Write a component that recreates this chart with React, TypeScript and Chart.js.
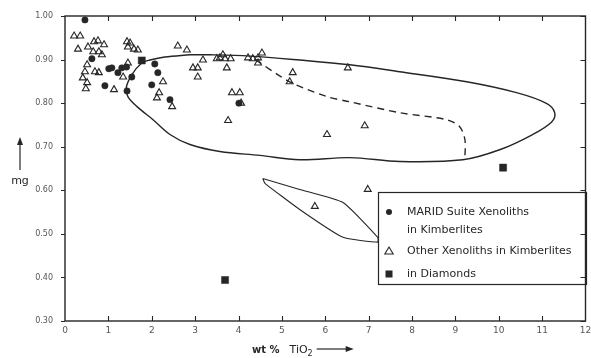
import React, { useEffect, useRef } from "react";
import { Chart, registerables } from "chart.js";

Chart.register(...registerables);

// MARID suite xenoliths in kimberlites (filled circles)
const maridX = [0.46, 0.62, 0.92, 1.01, 1.08, 1.22, 1.31, 1.42, 1.54, 1.43, 2.07, 2.14, 2.0, 2.42, 4.01];
const maridY = [0.991, 0.902, 0.84, 0.879, 0.881, 0.87, 0.881, 0.883, 0.86, 0.828, 0.89, 0.87, 0.842, 0.808, 0.80];

// Other xenoliths in kimberlites (open triangles)
const otherX = [
  0.21, 0.35, 0.30, 0.53, 0.67, 0.76, 0.90, 0.65, 0.78, 0.85, 0.51, 0.46, 0.41, 0.69, 0.78,
  0.51, 0.48, 1.13, 1.34, 1.45, 1.43, 1.50, 1.45, 1.59, 1.68, 2.60, 2.81, 2.95, 3.06, 3.06,
  3.18, 3.50, 3.57, 3.64, 3.69, 3.82, 3.73, 3.85, 4.03, 4.06, 3.76, 2.26, 2.17, 2.12, 2.47,
  4.22, 4.33, 4.45, 4.54, 4.45, 5.25, 5.18, 6.52, 6.04, 6.91, 6.98, 5.76,
];
const otherY = [
  0.954, 0.954, 0.924, 0.929, 0.941, 0.943, 0.934, 0.918, 0.918, 0.911, 0.888, 0.872, 0.858, 0.872, 0.87,
  0.847, 0.833, 0.831, 0.86, 0.892, 0.941, 0.938, 0.929, 0.924, 0.922, 0.931, 0.922, 0.881, 0.881, 0.86,
  0.899, 0.902, 0.904, 0.911, 0.902, 0.902, 0.881, 0.824, 0.824, 0.80, 0.76, 0.849, 0.824, 0.812, 0.792,
  0.904, 0.902, 0.904, 0.915, 0.892, 0.87, 0.849, 0.881, 0.728, 0.748, 0.602, 0.563,
];

// Inclusions in diamonds (filled squares)
const diamondX = [1.77, 3.69, 10.1];
const diamondY = [0.898, 0.394, 0.652];

// Large solid field outline
const fieldX = [
  2.88, 2.3, 1.96, 1.77, 1.54, 1.41, 1.45, 1.66, 2.03, 2.42, 2.88, 3.57, 4.49, 5.41, 6.57,
  7.72, 9.17, 10.02, 10.78, 11.22, 11.29, 11.11, 10.41, 9.26, 7.72, 6.57, 5.41, 4.26, 3.34, 2.88,
];
const fieldY = [
  0.911, 0.906, 0.899, 0.892, 0.865, 0.835, 0.815, 0.792, 0.762, 0.728, 0.705, 0.689, 0.68, 0.67, 0.675,
  0.666, 0.67, 0.693, 0.728, 0.757, 0.778, 0.799, 0.824, 0.849, 0.872, 0.888, 0.899, 0.908, 0.911, 0.911,
];

// Dashed sub-field boundary
const dashX = [4.4, 5.18, 6.04, 6.57, 7.72, 8.8, 9.1, 9.22, 9.22];
const dashY = [0.899, 0.849, 0.815, 0.803, 0.778, 0.762, 0.746, 0.716, 0.675];

// Small elongated field
const smallX = [4.56, 5.41, 6.41, 7.21, 7.21, 6.41, 5.41, 4.61, 4.56];
const smallY = [0.627, 0.602, 0.572, 0.492, 0.481, 0.492, 0.556, 0.616, 0.627];

const xTicks = [0, 1, 2, 3, 4, 5, 6, 7, 8, 9, 10, 11, 12];
const yTicks = [0.3, 0.4, 0.5, 0.6, 0.7, 0.8, 0.9, 1.0];

const legendItems = [
  { marker: "circle", lines: ["MARID Suite Xenoliths", "in Kimberlites"] },
  { marker: "triangle", lines: ["Other Xenoliths in Kimberlites"] },
  { marker: "square", lines: ["in Diamonds"] },
];

const INK = "#262626";
const FONT = "'DejaVu Sans', sans-serif";

const pts = (xs: number[], ys: number[]) => xs.map((x, i) => ({ x, y: ys[i] }));

export default function App() {
  const ref = useRef<HTMLCanvasElement | null>(null);

  useEffect(() => {
    const canvas = ref.current;
    if (!canvas) return;

    const decorPlugin = {
      id: "decor",
      afterDatasetsDraw(chart: any) {
        const { ctx, chartArea: a, scales } = chart;
        const xs = scales.x;
        const ys = scales.y;
        // legend box
        const L = Math.round(xs.getPixelForValue(7.22));
        const T = Math.round(ys.getPixelForValue(0.596));
        const B = Math.round(ys.getPixelForValue(0.386));
        const R = Math.round(a.right);
        ctx.save();
        ctx.fillStyle = "#fff";
        ctx.fillRect(L, T, R - L, B - T);
        ctx.strokeStyle = INK;
        ctx.lineWidth = 1.2;
        ctx.strokeRect(L + 0.5, T + 0.5, R - L, B - T);
        ctx.fillStyle = INK;
        ctx.font = `11px ${FONT}`;
        ctx.textBaseline = "middle";
        ctx.textAlign = "left";
        const mx = L + 11;
        const tx = L + 29;
        let y = T + 20;
        legendItems.forEach((it) => {
          ctx.beginPath();
          if (it.marker === "circle") {
            ctx.arc(mx, y, 3, 0, Math.PI * 2);
            ctx.fill();
          } else if (it.marker === "triangle") {
            ctx.lineWidth = 1.1;
            ctx.moveTo(mx, y - 4);
            ctx.lineTo(mx + 4.2, y + 3);
            ctx.lineTo(mx - 4.2, y + 3);
            ctx.closePath();
            ctx.stroke();
          } else {
            ctx.fillRect(mx - 3.5, y - 3.5, 7, 7);
          }
          it.lines.forEach((ln, k) => {
            ctx.fillText(ln, tx, y + k * 18);
          });
          y += it.lines.length === 2 ? 39 : 23;
        });
        ctx.restore();
      },
      afterDraw(chart: any) {
        const { ctx, chartArea: a, scales } = chart;
        const xs = scales.x;
        const ys = scales.y;
        ctx.save();
        ctx.strokeStyle = INK;
        ctx.lineWidth = 1.4;
        ctx.strokeRect(a.left, a.top, a.right - a.left, a.bottom - a.top);
        ctx.lineWidth = 1.1;
        ctx.beginPath();
        xTicks.slice(1, -1).forEach((v) => {
          const px = Math.round(xs.getPixelForValue(v)) + 0.5;
          ctx.moveTo(px, a.bottom);
          ctx.lineTo(px, a.bottom - 5);
          ctx.moveTo(px, a.top);
          ctx.lineTo(px, a.top + 5);
        });
        yTicks.forEach((v) => {
          const py = Math.round(ys.getPixelForValue(v)) + 0.5;
          ctx.moveTo(a.left - 4, py);
          ctx.lineTo(a.left, py);
          ctx.moveTo(a.right, py);
          ctx.lineTo(a.right - 5, py);
        });
        ctx.stroke();

        // y title: arrow + "mg"
        ctx.fillStyle = INK;
        ctx.lineWidth = 1.2;
        const ax = 20;
        ctx.beginPath();
        ctx.moveTo(ax, 170);
        ctx.lineTo(ax, 143);
        ctx.stroke();
        ctx.beginPath();
        ctx.moveTo(ax, 137);
        ctx.lineTo(ax - 3, 145);
        ctx.lineTo(ax + 3, 145);
        ctx.closePath();
        ctx.fill();
        ctx.font = `11px ${FONT}`;
        ctx.textAlign = "center";
        ctx.textBaseline = "middle";
        ctx.fillText("mg", ax, 181);

        // x title: "wt %  TiO2 ---->"
        ctx.textAlign = "left";
        ctx.textBaseline = "alphabetic";
        ctx.font = `bold 10px ${FONT}`;
        let x = 252;
        const base = 353;
        ctx.fillText("wt %", x, base);
        x += ctx.measureText("wt %").width + 10;
        ctx.font = `11px ${FONT}`;
        ctx.fillText("TiO", x, base);
        x += ctx.measureText("TiO").width;
        ctx.font = `8px ${FONT}`;
        ctx.fillText("2", x, base + 3);
        x += ctx.measureText("2").width + 4;
        ctx.beginPath();
        ctx.moveTo(x, base - 4);
        ctx.lineTo(x + 30, base - 4);
        ctx.stroke();
        ctx.beginPath();
        ctx.moveTo(x + 37, base - 4);
        ctx.lineTo(x + 29, base - 7);
        ctx.lineTo(x + 29, base - 1);
        ctx.closePath();
        ctx.fill();
        ctx.restore();
      },
    };

    const chart = new Chart(canvas, {
      type: "scatter",
      data: {
        datasets: [
          {
            label: "MARID",
            data: pts(maridX, maridY),
            pointStyle: "circle",
            pointRadius: 3.2,
            backgroundColor: INK,
            borderColor: INK,
            borderWidth: 0.5,
          },
          {
            label: "Diamonds",
            data: pts(diamondX, diamondY),
            pointStyle: "rect",
            pointRadius: 5,
            backgroundColor: INK,
            borderColor: INK,
            borderWidth: 0.5,
          },
          {
            label: "Other",
            data: pts(otherX, otherY),
            pointStyle: "triangle",
            pointRadius: 4,
            backgroundColor: "rgba(255,255,255,0)",
            borderColor: INK,
            borderWidth: 1.1,
          },
          {
            label: "field",
            data: pts(fieldX, fieldY),
            showLine: true,
            pointRadius: 0,
            borderColor: INK,
            borderWidth: 1.4,
            tension: 0.35,
            fill: false,
          },
          {
            label: "dash",
            data: pts(dashX, dashY),
            showLine: true,
            pointRadius: 0,
            borderColor: INK,
            borderWidth: 1.4,
            borderDash: [7, 5],
            tension: 0.3,
            fill: false,
          },
          {
            label: "small",
            data: pts(smallX, smallY),
            showLine: true,
            pointRadius: 0,
            borderColor: INK,
            borderWidth: 1.1,
            tension: 0.15,
            fill: false,
          },
        ],
      },
      options: {
        animation: false,
        responsive: false,
        maintainAspectRatio: false,
        devicePixelRatio: 1,
        layout: { padding: { left: 0, top: 16, right: 5, bottom: 0 } },
        plugins: { legend: { display: false }, tooltip: { enabled: false } },
        scales: {
          x: {
            type: "linear",
            min: 0,
            max: 12,
            afterBuildTicks: (s: any) => {
              s.ticks = xTicks.map((v) => ({ value: v }));
            },
            afterFit: (s: any) => {
              s.height = 37;
              s.paddingLeft = 0;
              s.paddingRight = 0;
            },
            grid: { display: false, drawTicks: false, tickLength: 0 },
            border: { display: false },
            ticks: {
              padding: 4,
              color: "#555",
              font: { family: "'DejaVu Sans', sans-serif", size: 9 },
              callback: (v: any) => String(v),
            },
          },
          y: {
            type: "linear",
            min: 0.3,
            max: 1.0,
            afterBuildTicks: (s: any) => {
              s.ticks = yTicks.map((v) => ({ value: v }));
            },
            afterFit: (s: any) => {
              s.width = 65;
              s.paddingTop = 0;
              s.paddingBottom = 0;
            },
            grid: { display: false, drawTicks: false, tickLength: 0 },
            border: { display: false },
            ticks: {
              padding: 12,
              color: "#555",
              font: { family: "'DejaVu Sans', sans-serif", size: 8 },
              callback: (v: any) => Number(v).toFixed(2),
            },
          },
        },
      },
      plugins: [decorPlugin],
    });

    return () => chart.destroy();
  }, []);

  return (
    <div style={{ position: "fixed", left: 0, top: 0, width: 591, height: 358, background: "#fff" }}>
      <canvas ref={ref} width={591} height={358} style={{ display: "block", width: 591, height: 358 }} />
    </div>
  );
}
